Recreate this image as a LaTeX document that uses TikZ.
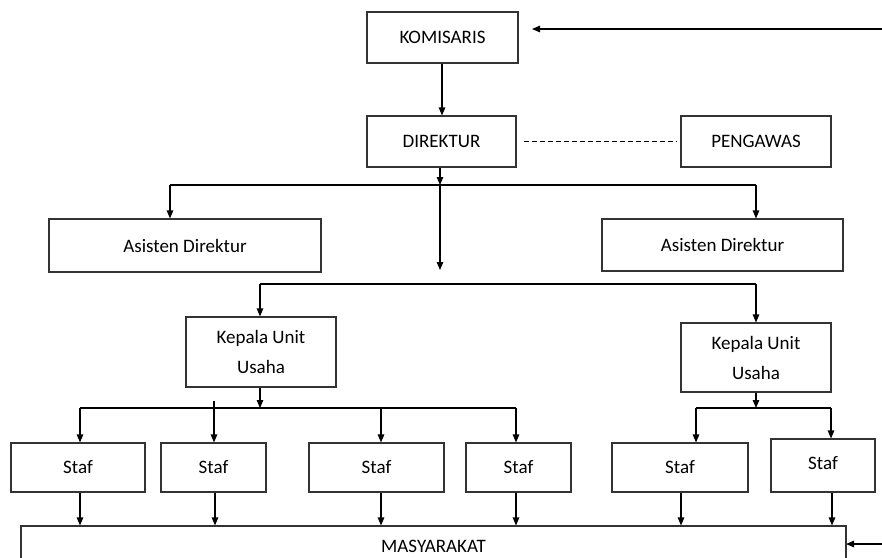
\documentclass[tikz,border=0pt]{standalone}
\usepackage{fontspec}
\setmainfont{Carlito}
\usetikzlibrary{arrows.meta}
\begin{document}
\begin{tikzpicture}[x=1pt,y=-1pt,
  box/.style={draw=black!80,line width=1.1pt,rectangle,inner sep=0pt,align=center,
    font=\fontsize{19}{30}\selectfont,text=black},
  conn/.style={line width=1.1pt,black},
  arr/.style={conn,-{Triangle[length=8pt,width=6.5pt]}}]
\useasboundingbox (0,0) rectangle (882,557);
\clip (0,0) rectangle (882,557);
% nodes
\node[box,minimum width=151pt,minimum height=51pt] (kom) at (442.5,37.5) {KOMISARIS};
\node[box,minimum width=149pt,minimum height=51pt] (dir) at (441.5,141.5) {DIREKTUR};
\node[box,minimum width=150pt,minimum height=51pt] (pen) at (756,141.5) {PENGAWAS};
\node[box,minimum width=272pt,minimum height=53pt] (asL) at (185,245.5) {Asisten Direktur};
\node[box,minimum width=241pt,minimum height=52pt] (asR) at (722.5,245) {Asisten Direktur};
\node[box,minimum width=150pt,minimum height=70pt] (kepL) at (261,352) {Kepala Unit\\Usaha};
\node[box,minimum width=150pt,minimum height=69pt] (kepR) at (756,357.5) {Kepala Unit\\Usaha};
\node[box,minimum width=134pt,minimum height=49pt] (s1) at (78,467.5) {Staf};
\node[box,minimum width=105pt,minimum height=49pt] (s2) at (213.5,467.5) {Staf};
\node[box,minimum width=135pt,minimum height=49pt] (s3) at (376.5,467.5) {Staf};
\node[box,minimum width=105pt,minimum height=49pt] (s4) at (518.5,467.5) {Staf};
\node[box,minimum width=136pt,minimum height=49pt] (s5) at (680,467.5) {Staf};
\node[box,minimum width=104pt,minimum height=53pt,text depth=5pt] (s6) at (823,465.5) {Staf};
\node[box,minimum width=825pt,minimum height=41pt] (mas) at (433.5,546.5) {MASYARAKAT};
% coordinates
\coordinate (kin) at (882,29);
\coordinate (kend) at (532,29);
\coordinate (min) at (882,544);
\coordinate (mend) at (846,544);
\coordinate (j1) at (440,185);
\coordinate (jc) at (440,270);
\coordinate (hl) at (170,185);
\coordinate (hr) at (756,185);
\coordinate (k1) at (260,284);
\coordinate (k2) at (756,284);
\coordinate (la) at (80,408);
\coordinate (lm) at (260,408);
\coordinate (lb) at (214,401);
\coordinate (lc) at (381,408);
\coordinate (ld) at (516,408);
\coordinate (ra) at (696,408);
\coordinate (rm) at (756,408);
\coordinate (rb) at (831,408);
% connectors
\draw[arr] (kin) -- (kend);
\draw[arr] (kom.south -| 442,0) -- (dir.north -| 442,0);
\draw[conn,line width=0.9pt,dash pattern=on 5pt off 3pt] ([xshift=7pt]dir.east) -- ([xshift=-4pt]pen.west);
\draw[arr] (dir.south -| j1) -- (j1);
\draw[arr] (j1) -- (jc);
\draw[conn] (hl) -- (hr);
\draw[arr] (hl) -- (hl |- asL.north);
\draw[arr] (hr) -- (hr |- asR.north);
\draw[conn] (k1) -- (k2);
\draw[arr] (k1) -- (k1 |- kepL.north);
\draw[arr] (k2) -- (k2 |- kepR.north);
\draw[arr] (kepL.south -| lm) -- (lm);
\draw[conn] (la) -- (ld);
\draw[arr] (la) -- (la |- s1.north);
\draw[arr] (lb) -- (lb |- s2.north);
\draw[arr] (lc) -- (lc |- s3.north);
\draw[arr] (ld) -- (ld |- s4.north);
\draw[arr] (kepR.south -| rm) -- (rm);
\draw[conn] (ra) -- (rb);
\draw[arr] (ra) -- (ra |- s5.north);
\draw[arr] (rb) -- (rb |- s6.north);
\draw[arr] (s1.south -| 80,0) -- (mas.north -| 80,0);
\draw[arr] (s2.south -| 215,0) -- (mas.north -| 215,0);
\draw[arr] (s3.south -| 381,0) -- (mas.north -| 381,0);
\draw[arr] (s4.south -| 516,0) -- (mas.north -| 516,0);
\draw[arr] (s5.south -| 681,0) -- (mas.north -| 681,0);
\draw[arr] (s6.south -| 832,0) -- (mas.north -| 832,0);
\draw[arr] (min) -- (mend);
\end{tikzpicture}
\end{document}
